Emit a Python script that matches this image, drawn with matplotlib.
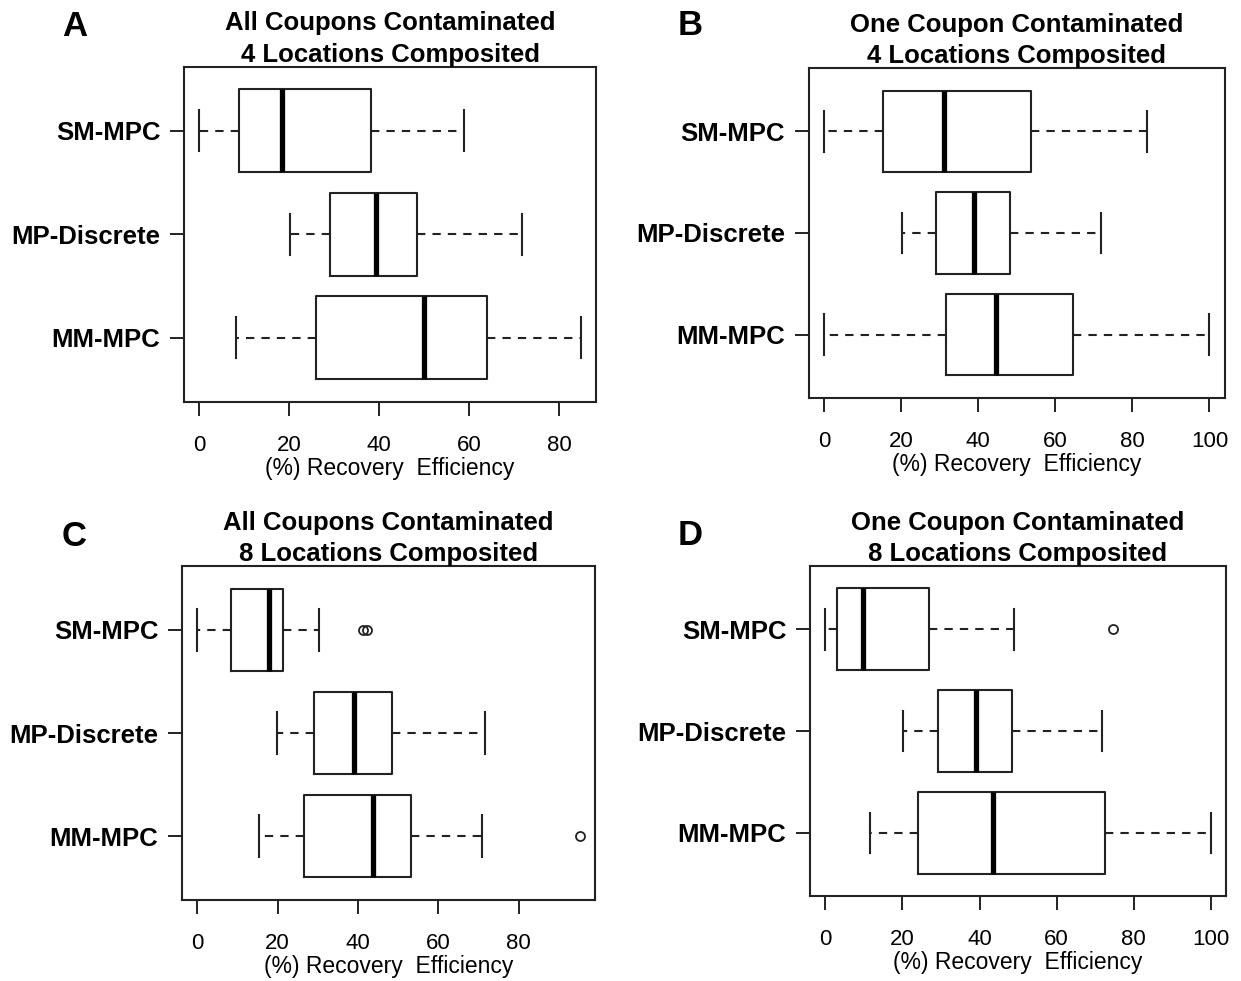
import matplotlib
matplotlib.use("Agg")
import matplotlib.pyplot as plt

plt.rcParams['font.family'] = ['Liberation Sans', 'DejaVu Sans']

# groups, top to bottom
methods = ["SM-MPC", "MP-Discrete", "MM-MPC"]
letters = ["A", "B", "C", "D"]
titles = ["All Coupons Contaminated\n4 Locations Composited",
          "One Coupon Contaminated\n4 Locations Composited",
          "All Coupons Contaminated\n8 Locations Composited",
          "One Coupon Contaminated\n8 Locations Composited"]

# [whisker low, Q1, median, Q3, whisker high] for SM-MPC, MP-Discrete, MM-MPC
stats_a = [[0, 8.8, 18.4, 38.3, 58.8], [20.1, 29.1, 39.3, 48.4, 71.8], [8.1, 25.9, 49.9, 64.1, 84.9]]
stats_b = [[0, 15.3, 31.1, 53.7, 83.7], [20.2, 29.0, 39.0, 48.3, 71.8], [0, 31.5, 44.7, 64.5, 100]]
stats_c = [[0, 8.4, 17.9, 21.2, 30.4], [19.9, 29.1, 39.1, 48.5, 71.6], [15.3, 26.5, 43.8, 53.2, 70.8]]
stats_d = [[0, 2.9, 9.8, 26.8, 49.0], [20.2, 29.1, 39.2, 48.5, 71.8], [11.7, 24.0, 43.4, 72.6, 100]]

# outliers
fliers_a = [[], [], []]
fliers_b = [[], [], []]
fliers_c = [[41.2, 42.3], [], [95.2]]
fliers_d = [[74.7], [], []]

xticks_a = [0, 20, 40, 60, 80]
xticks_b = [0, 20, 40, 60, 80, 100]
xticks_c = [0, 20, 40, 60, 80]
xticks_d = [0, 20, 40, 60, 80, 100]

panels = [(stats_a, fliers_a, xticks_a), (stats_b, fliers_b, xticks_b),
          (stats_c, fliers_c, xticks_c), (stats_d, fliers_d, xticks_d)]

# axes rectangles in figure fractions [left, bottom, width, height]
rects = [[0.1483, 0.5905, 0.3321, 0.3415],
         [0.6517, 0.5946, 0.3353, 0.3358],
         [0.1467, 0.0826, 0.3328, 0.3404],
         [0.6527, 0.0866, 0.3353, 0.3364]]
letter_pos = [(62, 36), (678, 35), (62, 546), (678, 545)]

W, H = 1241, 981
fig = plt.figure(figsize=(W / 100, H / 100), dpi=100)

lc = '#222222'
for i, (stats, fliers, xt) in enumerate(panels):
    ax = fig.add_axes(rects[i])
    bxp = []
    for name, s, fl in zip(methods, stats, fliers):
        bxp.append(dict(label=name, whislo=s[0], q1=s[1], med=s[2], q3=s[3], whishi=s[4], fliers=fl))
    pos = [3, 2, 1]
    ax.bxp(bxp, positions=pos, widths=0.8, capwidths=0.4, orientation='horizontal',
           boxprops=dict(color=lc, lw=1.5),
           medianprops=dict(color='black', lw=3.8, solid_capstyle='butt'),
           whiskerprops=dict(color=lc, lw=1.5, linestyle=(0, (4.0, 3.4))),
           capprops=dict(color=lc, lw=1.5),
           flierprops=dict(marker='o', markerfacecolor='none', markeredgecolor=lc,
                           markersize=6.5, markeredgewidth=1.3, linestyle='none'))
    vals = [v for s in stats for v in (s[0], s[4])] + [v for fl in fliers for v in fl]
    lo, hi = min(vals), max(vals)
    pad = 0.04 * (hi - lo)
    ax.set_xlim(lo - pad, hi + pad)
    ax.set_ylim(0.38, 3.62)
    ax.set_xticks(xt)
    ax.set_xticklabels([str(t) for t in xt], fontsize=16)
    ax.set_yticks(pos)
    ax.set_yticklabels(methods, fontsize=18.5, fontweight='bold')
    ax.tick_params(axis='x', length=10, width=1.4, pad=14, color=lc)
    ax.tick_params(axis='y', length=10, width=1.4, pad=7, color=lc)
    for sp in ax.spines.values():
        sp.set_linewidth(1.5)
        sp.set_color(lc)
    ax.set_xlabel("(%) Recovery  Efficiency", fontsize=16.5, labelpad=0.5)
    ax.set_title(titles[i], fontsize=18.5, fontweight='bold', pad=1, linespacing=1.38)
    fig.text(letter_pos[i][0] / W, 1 - letter_pos[i][1] / H, letters[i],
             fontsize=25, fontweight='bold', ha='left', va='baseline')

fig.savefig("out.png", dpi=100)
